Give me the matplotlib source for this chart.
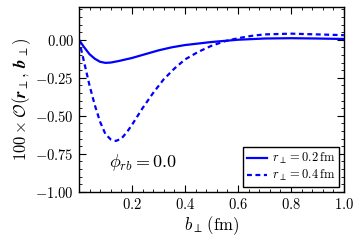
import numpy as np
import matplotlib
matplotlib.use("Agg")
import matplotlib.pyplot as plt
from matplotlib.ticker import MultipleLocator

plt.rcParams['mathtext.fontset'] = 'cm'
plt.rcParams['font.family'] = 'serif'
plt.rcParams['font.serif'] = ['DejaVu Serif']

# --- data ---
b_02 = [0, 0.02, 0.04, 0.06, 0.08, 0.10, 0.12, 0.15, 0.2, 0.25, 0.3, 0.35, 0.4, 0.5, 0.6, 0.7, 0.8, 0.9, 1.0]
o_02 = [0, -0.05, -0.095, -0.125, -0.145, -0.152, -0.15, -0.14, -0.12, -0.095, -0.07, -0.05, -0.035,
        -0.015, 0.0, 0.008, 0.01, 0.008, 0.005]

b_04 = [0, 0.02, 0.04, 0.06, 0.08, 0.10, 0.12, 0.14, 0.16, 0.18, 0.20, 0.24, 0.28, 0.32, 0.36, 0.40,
        0.45, 0.50, 0.55, 0.60, 0.65, 0.70, 0.80, 0.90, 1.0]
o_04 = [0, -0.15, -0.30, -0.43, -0.54, -0.62, -0.655, -0.665, -0.65, -0.61, -0.56, -0.45, -0.35, -0.26,
        -0.19, -0.13, -0.08, -0.04, -0.01, 0.01, 0.025, 0.035, 0.04, 0.035, 0.03]

labels = [r'$r_\perp = 0.2\,\mathrm{fm}$', r'$r_\perp = 0.4\,\mathrm{fm}$']

fig = plt.figure(figsize=(3.62, 2.42), dpi=100)
ax = fig.add_axes([0.218, 0.207, 0.732, 0.764])

ax.plot(b_02, o_02, 'b-', lw=1.6, label=labels[0])
ax.plot(b_04, o_04, 'b--', lw=1.6, dashes=(2.2, 1.6), label=labels[1])

ax.set_xlim(0, 1.0)
ax.set_ylim(-1.0, 0.215)
ax.set_xticks([0.2, 0.4, 0.6, 0.8, 1.0])
ax.set_yticks([0.0, -0.25, -0.5, -0.75, -1.0])
ax.set_yticklabels([r'$0.00$', r'$-0.25$', r'$-0.50$', r'$-0.75$', r'$-1.00$'])
ax.set_xticklabels([r'$0.2$', r'$0.4$', r'$0.6$', r'$0.8$', r'$1.0$'])
ax.xaxis.set_minor_locator(MultipleLocator(0.04))
ax.yaxis.set_minor_locator(MultipleLocator(0.05))
ax.tick_params(which='both', direction='in', top=True, right=True, labelsize=10.5)
ax.tick_params(which='major', length=5)
ax.tick_params(which='minor', length=2.5)
for s in ax.spines.values():
    s.set_linewidth(1.0)

ax.set_xlabel(r'$b_\perp\,(\mathrm{fm})$', fontsize=12, labelpad=2)
ax.set_ylabel(r'$100 \times \mathcal{O}(\boldsymbol{r}_\perp,\, \boldsymbol{b}_\perp)$', fontsize=12, labelpad=2)

ax.text(0.115, -0.81, r'$\phi_{rb} = 0.0$', fontsize=13, va='center', ha='left')

leg = ax.legend(loc='lower right', fontsize=9, fancybox=False, framealpha=1,
                handlelength=1.6, borderpad=0.3, labelspacing=0.15, handletextpad=0.4,
                borderaxespad=0.4)
leg.get_frame().set_edgecolor('black')
leg.get_frame().set_linewidth(1.0)

fig.savefig('out.png', dpi=100)
